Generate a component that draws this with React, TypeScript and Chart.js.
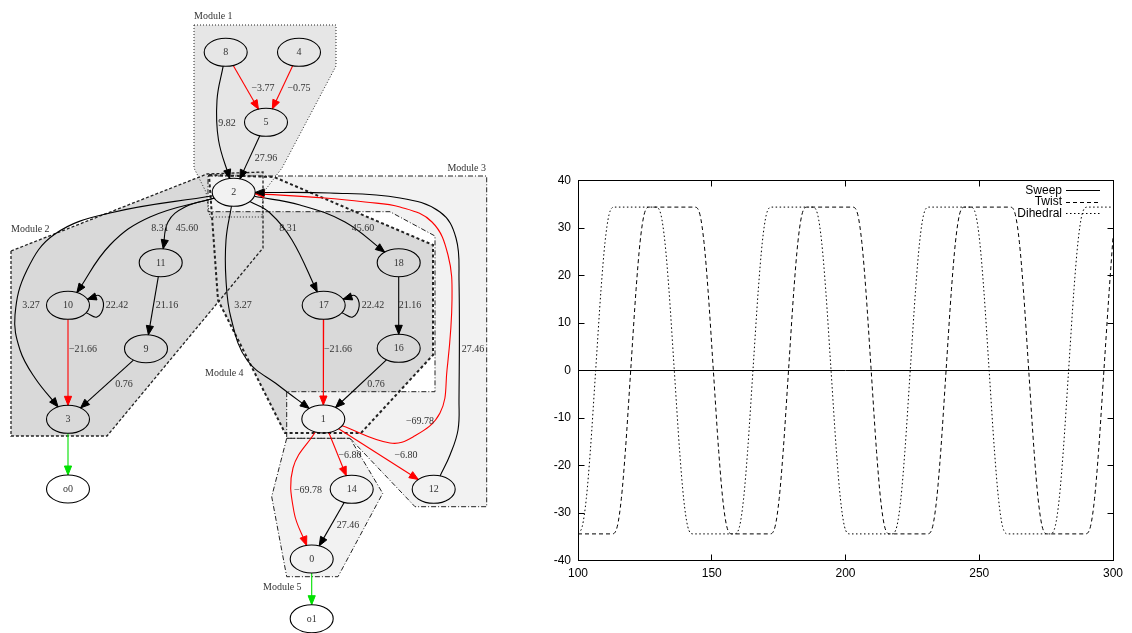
import React, { useEffect, useRef } from "react";
import { Chart, registerables } from "chart.js";
Chart.register(...registerables);

// ================= Right chart data =================
const xTickValues = [100, 150, 200, 250, 300];
const yTickValues = [-40, -30, -20, -10, 0, 10, 20, 30, 40];
const seriesNames = ["Sweep", "Twist", "Dihedral"];

const sweepX = [100, 300];
const sweepY = [0, 0];

const twistX = [
  100, 112.7, 114.7, 116.2, 117.7, 119.7, 121.7, 123.2, 124.7, 126.7,
  143.6, 145.6, 147.1, 148.6, 150.6, 152.6, 154.1, 155.6, 157.6,
  171.7, 173.7, 175.2, 176.7, 178.7, 180.7, 182.2, 183.7, 185.7,
  202.6, 204.6, 206.1, 207.6, 209.6, 211.6, 213.1, 214.6, 216.6,
  230.6, 232.6, 234.1, 235.6, 237.6, 239.6, 241.1, 242.6, 244.6,
  261.5, 263.5, 265, 266.5, 268.5, 270.5, 272, 273.5, 275.5,
  289.6, 291.6, 293.1, 294.6, 296.6, 298.6, 300,
];
const twistY = [
  -34.4, -34.4, -32.8, -27, -17, 0, 17, 27, 32.8, 34.4,
  34.4, 32.8, 27, 17, 0, -17, -27, -32.8, -34.4,
  -34.4, -32.8, -27, -17, 0, 17, 27, 32.8, 34.4,
  34.4, 32.8, 27, 17, 0, -17, -27, -32.8, -34.4,
  -34.4, -32.8, -27, -17, 0, 17, 27, 32.8, 34.4,
  34.4, 32.8, 27, 17, 0, -17, -27, -32.8, -34.4,
  -34.4, -32.8, -27, -17, 0, 17, 28,
];

const dihedralX = [
  100, 101.6, 103.1, 104.6, 106.6, 108.6, 110.1, 111.6, 113.6,
  129, 131, 132.5, 134, 136, 138, 139.5, 141, 143,
  158.4, 160.4, 161.9, 163.4, 165.4, 167.4, 168.9, 170.4, 172.4,
  187.6, 189.6, 191.1, 192.6, 194.6, 196.6, 198.1, 199.6, 201.6,
  217.2, 219.2, 220.7, 222.2, 224.2, 226.2, 227.7, 229.2, 231.2,
  246.7, 248.7, 250.2, 251.7, 253.7, 255.7, 257.2, 258.7, 260.7,
  276.4, 278.4, 279.9, 281.4, 283.4, 285.4, 286.9, 288.4, 290.4, 300,
];
const dihedralY = [
  -34.3, -32.8, -27, -17, 0, 17, 27, 32.8, 34.4,
  34.4, 32.8, 27, 17, 0, -17, -27, -32.8, -34.4,
  -34.4, -32.8, -27, -17, 0, 17, 27, 32.8, 34.4,
  34.4, 32.8, 27, 17, 0, -17, -27, -32.8, -34.4,
  -34.4, -32.8, -27, -17, 0, 17, 27, 32.8, 34.4,
  34.4, 32.8, 27, 17, 0, -17, -27, -32.8, -34.4,
  -34.4, -32.8, -27, -17, 0, 17, 27, 32.8, 34.4, 34.4,
];

// ================= Left diagram data =================
const nodeIds = ["8", "4", "5", "2", "11", "18", "10", "17", "9", "16", "3", "1", "o0", "14", "12", "0", "o1"];
const nodeX = [225.7, 299, 266, 233.7, 160.7, 398.7, 68, 323.7, 146, 398.7, 68, 323.3, 68, 351.7, 433.7, 311.7, 311.7];
const nodeY = [52.3, 52.3, 122.3, 192.3, 262.7, 262.7, 305.3, 305.3, 348.7, 348.3, 419.3, 419, 489, 489.3, 489.3, 559, 618.7];

const edgeFrom = ["8", "4", "8", "5", "2", "2", "2", "10", "11", "10", "9", "3", "2", "2", "2", "17", "18", "17", "16", "1", "1", "1", "1", "12", "14", "0"];
const edgeTo = ["5", "5", "2", "2", "10", "3", "11", "10", "9", "3", "3", "o0", "17", "18", "1", "17", "16", "1", "1", "14", "12", "0", "2", "2", "0", "o1"];
const edgeLabel = ["−3.77", "−0.75", "9.82", "27.96", "8.31", "3.27", "45.60", "22.42", "21.16", "−21.66", "0.76", "", "8.31", "45.60", "3.27", "22.42", "21.16", "−21.66", "0.76", "−6.80", "−6.80", "−69.78", "−69.78", "27.46", "27.46", ""];
const edgeKind = ["neg", "neg", "pos", "pos", "pos", "pos", "pos", "pos", "pos", "neg", "pos", "out", "pos", "pos", "pos", "pos", "pos", "neg", "pos", "neg", "neg", "neg", "neg", "pos", "pos", "out"];
const edgeLabelX = [263, 299, 227, 266, 160, 31, 187, 117, 167, 83, 124, 0, 288, 363, 243, 373, 410, 338, 376, 350, 406, 308, 420, 473, 348, 0];
const edgeLabelY = [88, 88, 123, 158, 228, 305, 228, 305, 305, 349, 384, 0, 228, 228, 305, 305, 305, 349, 384, 455, 455, 490, 421, 349, 525, 0];
const edgeVia: number[][][] = [
  [],
  [],
  [[217, 100], [218.5, 140]],
  [],
  [[150, 217], [110, 245]],
  [[110, 213], [55, 234], [27, 270], [15, 315], [20, 350], [35, 378]],
  [[185, 207], [168, 222]],
  [[97, 317], [103.5, 306], [99, 295.5]],
  [],
  [],
  [],
  [],
  [[270, 213], [292, 240]],
  [[300, 205], [345, 222]],
  [[226, 240], [226, 280], [231, 318], [247, 360], [278, 385]],
  [[352.7, 317], [359.2, 306], [354.7, 295.5]],
  [],
  [],
  [],
  [],
  [],
  [[293, 468], [294, 512]],
  [[390, 443], [413, 437], [440, 413], [447, 370], [452, 300], [448, 255], [432, 222], [400, 207], [365, 202], [325, 198]],
  [[450, 455], [458, 430], [459, 400], [459, 280], [456, 238], [440, 212], [400, 198], [330, 193]],
  [],
  [],
];

const moduleNames = ["Module 1", "Module 2", "Module 4", "Module 3", "Module 5"];
const moduleFill = ["#e6e6e6", "#d9d9d9", "#d9d9d9", "#f2f2f2", "#f2f2f2"];
const moduleDash = [[1, 2], [3, 2], [3, 2.5], [5, 2, 1, 2], [5, 2, 1, 2]];
const moduleLineWidth = [1, 1.3, 2, 1, 1];
const modulePolys: number[][][] = [
  [[194, 25], [336, 25], [336, 66], [282, 168], [263, 193], [262, 217], [210, 217], [206, 192], [194, 168]],
  [[11, 251], [207, 174], [263, 172], [263, 248], [107, 436], [11, 436]],
  [[209, 175], [274, 177], [433, 245], [433, 355], [361, 433], [285, 433], [218, 300]],
  [[208, 176], [486.7, 176], [486.7, 506.7], [415, 506.7], [350, 438.3], [286.7, 438.3], [286.7, 391.7], [435, 391.7], [435, 236], [390, 211.7], [208, 211.7]],
  [[286.7, 438.3], [350, 438.3], [382.7, 493.3], [338, 576.7], [286.7, 576.7], [271.7, 496.7]],
];
const moduleLabelX = [194, 11, 205, 486, 263];
const moduleLabelY = [16, 229, 373, 168, 587];
const moduleLabelAlign = ["left", "left", "left", "right", "left"];

const RX = 21.5;
const RY = 14;
const SERIF = '"Liberation Serif", "DejaVu Serif", serif';
const SANS = '"Liberation Sans", Arial, sans-serif';

const kindColor: Record<string, string> = { pos: "#000000", neg: "#ff0000", out: "#00e000" };

function boundary(ci: number, tx: number, ty: number) {
  const cx = nodeX[ci];
  const cy = nodeY[ci];
  const dx = tx - cx;
  const dy = ty - cy;
  const t = 1 / Math.sqrt((dx / RX) ** 2 + (dy / RY) ** 2);
  return { x: cx + dx * t, y: cy + dy * t };
}

function buildLeftConfig(): any {
  const datasets: any[] = [];
  // module fills
  modulePolys.forEach((poly, i) => {
    const pts = poly.map(([x, y]) => ({ x, y }));
    pts.push({ x: poly[0][0], y: poly[0][1] });
    datasets.push({
      data: pts,
      showLine: true,
      fill: "shape",
      backgroundColor: moduleFill[i],
      borderColor: "rgba(0,0,0,0)",
      borderWidth: 0,
      pointRadius: 0,
      tension: 0,
      order: 1000 - i,
    });
  });
  // module outlines
  modulePolys.forEach((poly, i) => {
    const pts = poly.map(([x, y]) => ({ x, y }));
    pts.push({ x: poly[0][0], y: poly[0][1] });
    datasets.push({
      data: pts,
      showLine: true,
      fill: false,
      borderColor: "#222",
      borderWidth: moduleLineWidth[i],
      borderDash: moduleDash[i],
      pointRadius: 0,
      tension: 0,
      order: 900 - i,
      moduleLabel: moduleNames[i],
      moduleLabelPos: [moduleLabelX[i], moduleLabelY[i], moduleLabelAlign[i]],
    });
  });
  // edges
  edgeFrom.forEach((f, i) => {
    const a = nodeIds.indexOf(f);
    const b = nodeIds.indexOf(edgeTo[i]);
    const via = edgeVia[i];
    const first = via.length ? via[0] : [nodeX[b], nodeY[b]];
    const last = via.length ? via[via.length - 1] : [nodeX[a], nodeY[a]];
    const p0 = boundary(a, first[0], first[1]);
    const p1 = boundary(b, last[0], last[1]);
    const color = kindColor[edgeKind[i]];
    datasets.push({
      data: [p0, ...via.map(([x, y]) => ({ x, y })), p1],
      showLine: true,
      fill: false,
      borderColor: color,
      borderWidth: 1.1,
      pointRadius: 0,
      tension: via.length ? 0.4 : 0,
      order: 500,
      arrow: true,
      edgeLabel: edgeLabel[i],
      edgeLabelPos: [edgeLabelX[i], edgeLabelY[i]],
    });
  });
  // nodes
  datasets.push({
    data: nodeIds.map((_, i) => ({ x: nodeX[i], y: nodeY[i] })),
    showLine: false,
    pointRadius: 0,
    order: 100,
    isNodes: true,
  });

  const diagramPlugin = {
    id: "diagram",
    afterDatasetsDraw(chart: any) {
      const ctx = chart.ctx;
      const xs = chart.scales.x;
      const ys = chart.scales.y;
      const rxPx = Math.abs(xs.getPixelForValue(RX) - xs.getPixelForValue(0));
      const ryPx = Math.abs(ys.getPixelForValue(RY) - ys.getPixelForValue(0));
      ctx.save();
      chart.data.datasets.forEach((ds: any, i: number) => {
        const meta = chart.getDatasetMeta(i);
        if (ds.arrow) {
          const pts = meta.data;
          const n = pts.length;
          const tip = pts[n - 1];
          const prev = pts[n - 2];
          const ang = Math.atan2(tip.y - prev.y, tip.x - prev.x);
          const L = 9;
          const W = 3.6;
          const bx = tip.x - L * Math.cos(ang);
          const by = tip.y - L * Math.sin(ang);
          ctx.fillStyle = ds.borderColor;
          ctx.strokeStyle = ds.borderColor;
          ctx.lineWidth = 1;
          ctx.setLineDash([]);
          ctx.beginPath();
          ctx.moveTo(tip.x, tip.y);
          ctx.lineTo(bx + W * Math.sin(ang), by - W * Math.cos(ang));
          ctx.lineTo(bx - W * Math.sin(ang), by + W * Math.cos(ang));
          ctx.closePath();
          ctx.fill();
          ctx.stroke();
          if (ds.edgeLabel) {
            ctx.fillStyle = "#333";
            ctx.font = `10px ${SERIF}`;
            ctx.textAlign = "center";
            ctx.textBaseline = "middle";
            ctx.fillText(ds.edgeLabel, xs.getPixelForValue(ds.edgeLabelPos[0]), ys.getPixelForValue(ds.edgeLabelPos[1]));
          }
        }
        if (ds.moduleLabel) {
          ctx.fillStyle = "#333";
          ctx.font = `10px ${SERIF}`;
          ctx.textAlign = ds.moduleLabelPos[2];
          ctx.textBaseline = "middle";
          ctx.fillText(ds.moduleLabel, xs.getPixelForValue(ds.moduleLabelPos[0]), ys.getPixelForValue(ds.moduleLabelPos[1]));
        }
        if (ds.isNodes) {
          meta.data.forEach((p: any, k: number) => {
            ctx.beginPath();
            ctx.setLineDash([]);
            ctx.ellipse(p.x, p.y, rxPx, ryPx, 0, 0, Math.PI * 2);
            if (nodeIds[k].startsWith("o")) {
              ctx.fillStyle = "#fff";
              ctx.fill();
            }
            ctx.strokeStyle = "#000";
            ctx.lineWidth = 1.1;
            ctx.stroke();
            ctx.fillStyle = "#333";
            ctx.font = `10px ${SERIF}`;
            ctx.textAlign = "center";
            ctx.textBaseline = "middle";
            ctx.fillText(nodeIds[k], p.x, p.y + 0.5);
          });
        }
      });
      ctx.restore();
    },
  };

  return {
    type: "scatter",
    data: { datasets },
    options: {
      responsive: false,
      maintainAspectRatio: false,
      animation: false,
      events: [],
      layout: { padding: 0 },
      plugins: { legend: { display: false }, tooltip: { enabled: false } },
      scales: {
        x: { type: "linear", min: 0, max: 500, display: false },
        y: { type: "linear", min: 0, max: 633, reverse: true, display: false },
      },
    },
    plugins: [diagramPlugin],
  };
}

function buildRightConfig(): any {
  const zip = (xs: number[], ys: number[]) => xs.map((x, i) => ({ x, y: ys[i] }));
  const dashes = [[], [4, 3], [1.5, 2.5]];
  const datasets = [
    { label: seriesNames[0], data: zip(sweepX, sweepY) },
    { label: seriesNames[1], data: zip(twistX, twistY) },
    { label: seriesNames[2], data: zip(dihedralX, dihedralY) },
  ].map((d, i) => ({
    ...d,
    showLine: true,
    borderColor: "#000",
    borderWidth: 1,
    borderDash: dashes[i],
    pointRadius: 0,
    cubicInterpolationMode: "monotone",
    fill: false,
  }));

  const crisp = (v: number) => Math.floor(v) + 0.5;

  const framePlugin = {
    id: "frame",
    afterDraw(chart: any) {
      const ctx = chart.ctx;
      const a = chart.chartArea;
      const xs = chart.scales.x;
      const ys = chart.scales.y;
      const L = crisp(a.left);
      const R = crisp(a.right);
      const Tp = crisp(a.top);
      const B = crisp(a.bottom);
      ctx.save();
      ctx.strokeStyle = "#000";
      ctx.lineWidth = 1;
      ctx.setLineDash([]);
      ctx.strokeRect(L, Tp, R - L, B - Tp);
      const T = 6;
      ctx.beginPath();
      xTickValues.forEach((v) => {
        const px = crisp(xs.getPixelForValue(v));
        ctx.moveTo(px, B);
        ctx.lineTo(px, B - T);
        ctx.moveTo(px, Tp);
        ctx.lineTo(px, Tp + T);
      });
      yTickValues.forEach((v) => {
        const py = crisp(ys.getPixelForValue(v));
        ctx.moveTo(L, py);
        ctx.lineTo(L + T, py);
        ctx.moveTo(R, py);
        ctx.lineTo(R - T, py);
      });
      ctx.stroke();
      // legend
      ctx.font = `12px ${SANS}`;
      ctx.textAlign = "right";
      ctx.textBaseline = "middle";
      ctx.fillStyle = "#000";
      chart.data.datasets.forEach((ds: any, i: number) => {
        const y = a.top + 10 + i * 11.5;
        ctx.fillText(ds.label, a.right - 51, y);
        ctx.beginPath();
        ctx.setLineDash(ds.borderDash || []);
        ctx.moveTo(a.right - 47, crisp(y));
        ctx.lineTo(a.right - 13, crisp(y));
        ctx.stroke();
      });
      ctx.restore();
    },
  };

  return {
    type: "scatter",
    data: { datasets },
    options: {
      responsive: false,
      maintainAspectRatio: false,
      animation: false,
      events: [],
      layout: { padding: { left: 38, right: 19, top: 180.5, bottom: 52.5 } },
      plugins: { legend: { display: false }, tooltip: { enabled: false } },
      scales: {
        x: {
          type: "linear",
          min: 100,
          max: 300,
          afterBuildTicks: (s: any) => {
            s.ticks = xTickValues.map((v) => ({ value: v }));
          },
          ticks: { color: "#000", font: { family: SANS, size: 12 }, padding: 6, maxRotation: 0, autoSkip: false },
          grid: { display: false, drawTicks: false },
          border: { display: false },
          afterFit: (s: any) => {
            s.height = 20;
            s.paddingLeft = 0;
            s.paddingRight = 0;
          },
        },
        y: {
          type: "linear",
          min: -40,
          max: 40,
          afterBuildTicks: (s: any) => {
            s.ticks = yTickValues.map((v) => ({ value: v }));
          },
          ticks: { color: "#000", font: { family: SANS, size: 12 }, padding: 7, autoSkip: false },
          grid: { display: false, drawTicks: false },
          border: { display: false },
          afterFit: (s: any) => {
            s.width = 40;
            s.paddingTop = 0;
            s.paddingBottom = 0;
          },
        },
      },
    },
    plugins: [framePlugin],
  };
}

export default function App() {
  const leftRef = useRef<HTMLCanvasElement>(null);
  const rightRef = useRef<HTMLCanvasElement>(null);
  useEffect(() => {
    const left = new Chart(leftRef.current as HTMLCanvasElement, buildLeftConfig());
    const right = new Chart(rightRef.current as HTMLCanvasElement, buildRightConfig());
    return () => {
      left.destroy();
      right.destroy();
    };
  }, []);
  return (
    <div style={{ position: "fixed", left: 0, top: 0, width: 1132, height: 633, background: "#fff", overflow: "hidden" }}>
      <canvas ref={leftRef} width={500} height={633} style={{ position: "absolute", left: 0, top: 0, width: 500, height: 633 }} />
      <canvas ref={rightRef} width={632} height={633} style={{ position: "absolute", left: 500, top: 0, width: 632, height: 633 }} />
    </div>
  );
}
